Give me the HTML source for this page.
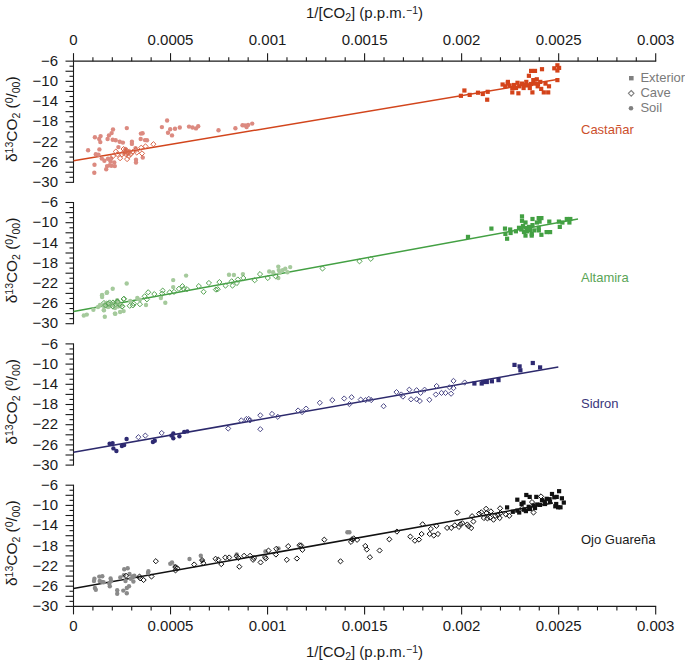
<!DOCTYPE html>
<html><head><meta charset="utf-8"><style>
html,body{margin:0;padding:0;background:#fff;}
svg{display:block;}
text{font-family:"Liberation Sans",sans-serif;font-size:15px;fill:#1a1a1a;}
</style></head><body>
<svg width="685" height="664" viewBox="0 0 685 664">
<rect width="685" height="664" fill="#fff"/>
<text x="364.5" y="17.5" text-anchor="middle">1/[CO<tspan baseline-shift="-25%" font-size="10.5">2</tspan>] (p.p.m.<tspan baseline-shift="35%" font-size="10.5">−1</tspan>)</text>
<text x="364.5" y="656.8" text-anchor="middle">1/[CO<tspan baseline-shift="-25%" font-size="10.5">2</tspan>] (p.p.m.<tspan baseline-shift="35%" font-size="10.5">−1</tspan>)</text>
<g stroke="#1a1a1a" stroke-width="1.1" fill="none">
<line x1="73.5" y1="61.15" x2="73.5" y2="182.85" />
<line x1="65.5" y1="61.15" x2="73.5" y2="61.15" />
<line x1="69.5" y1="66.20" x2="73.5" y2="66.20" />
<line x1="65.5" y1="71.25" x2="73.5" y2="71.25" />
<line x1="69.5" y1="76.30" x2="73.5" y2="76.30" />
<line x1="65.5" y1="81.35" x2="73.5" y2="81.35" />
<line x1="69.5" y1="86.40" x2="73.5" y2="86.40" />
<line x1="65.5" y1="91.45" x2="73.5" y2="91.45" />
<line x1="69.5" y1="96.50" x2="73.5" y2="96.50" />
<line x1="65.5" y1="101.55" x2="73.5" y2="101.55" />
<line x1="69.5" y1="106.60" x2="73.5" y2="106.60" />
<line x1="65.5" y1="111.65" x2="73.5" y2="111.65" />
<line x1="69.5" y1="116.70" x2="73.5" y2="116.70" />
<line x1="65.5" y1="121.75" x2="73.5" y2="121.75" />
<line x1="69.5" y1="126.80" x2="73.5" y2="126.80" />
<line x1="65.5" y1="131.85" x2="73.5" y2="131.85" />
<line x1="69.5" y1="136.90" x2="73.5" y2="136.90" />
<line x1="65.5" y1="141.95" x2="73.5" y2="141.95" />
<line x1="69.5" y1="147.00" x2="73.5" y2="147.00" />
<line x1="65.5" y1="152.05" x2="73.5" y2="152.05" />
<line x1="69.5" y1="157.10" x2="73.5" y2="157.10" />
<line x1="65.5" y1="162.15" x2="73.5" y2="162.15" />
<line x1="69.5" y1="167.20" x2="73.5" y2="167.20" />
<line x1="65.5" y1="172.25" x2="73.5" y2="172.25" />
<line x1="69.5" y1="177.30" x2="73.5" y2="177.30" />
<line x1="65.5" y1="182.35" x2="73.5" y2="182.35" />
<line x1="73.5" y1="202.0" x2="73.5" y2="324.2" />
<line x1="65.5" y1="202.50" x2="73.5" y2="202.50" />
<line x1="69.5" y1="207.55" x2="73.5" y2="207.55" />
<line x1="65.5" y1="212.60" x2="73.5" y2="212.60" />
<line x1="69.5" y1="217.65" x2="73.5" y2="217.65" />
<line x1="65.5" y1="222.70" x2="73.5" y2="222.70" />
<line x1="69.5" y1="227.75" x2="73.5" y2="227.75" />
<line x1="65.5" y1="232.80" x2="73.5" y2="232.80" />
<line x1="69.5" y1="237.85" x2="73.5" y2="237.85" />
<line x1="65.5" y1="242.90" x2="73.5" y2="242.90" />
<line x1="69.5" y1="247.95" x2="73.5" y2="247.95" />
<line x1="65.5" y1="253.00" x2="73.5" y2="253.00" />
<line x1="69.5" y1="258.05" x2="73.5" y2="258.05" />
<line x1="65.5" y1="263.10" x2="73.5" y2="263.10" />
<line x1="69.5" y1="268.15" x2="73.5" y2="268.15" />
<line x1="65.5" y1="273.20" x2="73.5" y2="273.20" />
<line x1="69.5" y1="278.25" x2="73.5" y2="278.25" />
<line x1="65.5" y1="283.30" x2="73.5" y2="283.30" />
<line x1="69.5" y1="288.35" x2="73.5" y2="288.35" />
<line x1="65.5" y1="293.40" x2="73.5" y2="293.40" />
<line x1="69.5" y1="298.45" x2="73.5" y2="298.45" />
<line x1="65.5" y1="303.50" x2="73.5" y2="303.50" />
<line x1="69.5" y1="308.55" x2="73.5" y2="308.55" />
<line x1="65.5" y1="313.60" x2="73.5" y2="313.60" />
<line x1="69.5" y1="318.65" x2="73.5" y2="318.65" />
<line x1="65.5" y1="323.70" x2="73.5" y2="323.70" />
<line x1="73.5" y1="343.4" x2="73.5" y2="465.59999999999997" />
<line x1="65.5" y1="343.90" x2="73.5" y2="343.90" />
<line x1="69.5" y1="348.95" x2="73.5" y2="348.95" />
<line x1="65.5" y1="354.00" x2="73.5" y2="354.00" />
<line x1="69.5" y1="359.05" x2="73.5" y2="359.05" />
<line x1="65.5" y1="364.10" x2="73.5" y2="364.10" />
<line x1="69.5" y1="369.15" x2="73.5" y2="369.15" />
<line x1="65.5" y1="374.20" x2="73.5" y2="374.20" />
<line x1="69.5" y1="379.25" x2="73.5" y2="379.25" />
<line x1="65.5" y1="384.30" x2="73.5" y2="384.30" />
<line x1="69.5" y1="389.35" x2="73.5" y2="389.35" />
<line x1="65.5" y1="394.40" x2="73.5" y2="394.40" />
<line x1="69.5" y1="399.45" x2="73.5" y2="399.45" />
<line x1="65.5" y1="404.50" x2="73.5" y2="404.50" />
<line x1="69.5" y1="409.55" x2="73.5" y2="409.55" />
<line x1="65.5" y1="414.60" x2="73.5" y2="414.60" />
<line x1="69.5" y1="419.65" x2="73.5" y2="419.65" />
<line x1="65.5" y1="424.70" x2="73.5" y2="424.70" />
<line x1="69.5" y1="429.75" x2="73.5" y2="429.75" />
<line x1="65.5" y1="434.80" x2="73.5" y2="434.80" />
<line x1="69.5" y1="439.85" x2="73.5" y2="439.85" />
<line x1="65.5" y1="444.90" x2="73.5" y2="444.90" />
<line x1="69.5" y1="449.95" x2="73.5" y2="449.95" />
<line x1="65.5" y1="455.00" x2="73.5" y2="455.00" />
<line x1="69.5" y1="460.05" x2="73.5" y2="460.05" />
<line x1="65.5" y1="465.10" x2="73.5" y2="465.10" />
<line x1="73.5" y1="484.7" x2="73.5" y2="606.9" />
<line x1="65.5" y1="485.20" x2="73.5" y2="485.20" />
<line x1="69.5" y1="490.25" x2="73.5" y2="490.25" />
<line x1="65.5" y1="495.30" x2="73.5" y2="495.30" />
<line x1="69.5" y1="500.35" x2="73.5" y2="500.35" />
<line x1="65.5" y1="505.40" x2="73.5" y2="505.40" />
<line x1="69.5" y1="510.45" x2="73.5" y2="510.45" />
<line x1="65.5" y1="515.50" x2="73.5" y2="515.50" />
<line x1="69.5" y1="520.55" x2="73.5" y2="520.55" />
<line x1="65.5" y1="525.60" x2="73.5" y2="525.60" />
<line x1="69.5" y1="530.65" x2="73.5" y2="530.65" />
<line x1="65.5" y1="535.70" x2="73.5" y2="535.70" />
<line x1="69.5" y1="540.75" x2="73.5" y2="540.75" />
<line x1="65.5" y1="545.80" x2="73.5" y2="545.80" />
<line x1="69.5" y1="550.85" x2="73.5" y2="550.85" />
<line x1="65.5" y1="555.90" x2="73.5" y2="555.90" />
<line x1="69.5" y1="560.95" x2="73.5" y2="560.95" />
<line x1="65.5" y1="566.00" x2="73.5" y2="566.00" />
<line x1="69.5" y1="571.05" x2="73.5" y2="571.05" />
<line x1="65.5" y1="576.10" x2="73.5" y2="576.10" />
<line x1="69.5" y1="581.15" x2="73.5" y2="581.15" />
<line x1="65.5" y1="586.20" x2="73.5" y2="586.20" />
<line x1="69.5" y1="591.25" x2="73.5" y2="591.25" />
<line x1="65.5" y1="596.30" x2="73.5" y2="596.30" />
<line x1="69.5" y1="601.35" x2="73.5" y2="601.35" />
<line x1="65.5" y1="606.40" x2="73.5" y2="606.40" />
<line x1="73.5" y1="61.15" x2="656.201" y2="61.15" />
<line x1="73.50" y1="53.15" x2="73.50" y2="61.15" />
<line x1="92.91" y1="57.15" x2="92.91" y2="61.15" />
<line x1="112.31" y1="57.15" x2="112.31" y2="61.15" />
<line x1="131.72" y1="57.15" x2="131.72" y2="61.15" />
<line x1="151.13" y1="57.15" x2="151.13" y2="61.15" />
<line x1="170.53" y1="53.15" x2="170.53" y2="61.15" />
<line x1="189.94" y1="57.15" x2="189.94" y2="61.15" />
<line x1="209.35" y1="57.15" x2="209.35" y2="61.15" />
<line x1="228.75" y1="57.15" x2="228.75" y2="61.15" />
<line x1="248.16" y1="57.15" x2="248.16" y2="61.15" />
<line x1="267.57" y1="53.15" x2="267.57" y2="61.15" />
<line x1="286.97" y1="57.15" x2="286.97" y2="61.15" />
<line x1="306.38" y1="57.15" x2="306.38" y2="61.15" />
<line x1="325.79" y1="57.15" x2="325.79" y2="61.15" />
<line x1="345.19" y1="57.15" x2="345.19" y2="61.15" />
<line x1="364.60" y1="53.15" x2="364.60" y2="61.15" />
<line x1="384.01" y1="57.15" x2="384.01" y2="61.15" />
<line x1="403.41" y1="57.15" x2="403.41" y2="61.15" />
<line x1="422.82" y1="57.15" x2="422.82" y2="61.15" />
<line x1="442.23" y1="57.15" x2="442.23" y2="61.15" />
<line x1="461.63" y1="53.15" x2="461.63" y2="61.15" />
<line x1="481.04" y1="57.15" x2="481.04" y2="61.15" />
<line x1="500.45" y1="57.15" x2="500.45" y2="61.15" />
<line x1="519.85" y1="57.15" x2="519.85" y2="61.15" />
<line x1="539.26" y1="57.15" x2="539.26" y2="61.15" />
<line x1="558.67" y1="53.15" x2="558.67" y2="61.15" />
<line x1="578.07" y1="57.15" x2="578.07" y2="61.15" />
<line x1="597.48" y1="57.15" x2="597.48" y2="61.15" />
<line x1="616.89" y1="57.15" x2="616.89" y2="61.15" />
<line x1="636.29" y1="57.15" x2="636.29" y2="61.15" />
<line x1="655.70" y1="53.15" x2="655.70" y2="61.15" />
<line x1="73.5" y1="606.4" x2="656.201" y2="606.4" />
<line x1="73.50" y1="606.4" x2="73.50" y2="614.4" />
<line x1="92.91" y1="606.4" x2="92.91" y2="610.4" />
<line x1="112.31" y1="606.4" x2="112.31" y2="610.4" />
<line x1="131.72" y1="606.4" x2="131.72" y2="610.4" />
<line x1="151.13" y1="606.4" x2="151.13" y2="610.4" />
<line x1="170.53" y1="606.4" x2="170.53" y2="614.4" />
<line x1="189.94" y1="606.4" x2="189.94" y2="610.4" />
<line x1="209.35" y1="606.4" x2="209.35" y2="610.4" />
<line x1="228.75" y1="606.4" x2="228.75" y2="610.4" />
<line x1="248.16" y1="606.4" x2="248.16" y2="610.4" />
<line x1="267.57" y1="606.4" x2="267.57" y2="614.4" />
<line x1="286.97" y1="606.4" x2="286.97" y2="610.4" />
<line x1="306.38" y1="606.4" x2="306.38" y2="610.4" />
<line x1="325.79" y1="606.4" x2="325.79" y2="610.4" />
<line x1="345.19" y1="606.4" x2="345.19" y2="610.4" />
<line x1="364.60" y1="606.4" x2="364.60" y2="614.4" />
<line x1="384.01" y1="606.4" x2="384.01" y2="610.4" />
<line x1="403.41" y1="606.4" x2="403.41" y2="610.4" />
<line x1="422.82" y1="606.4" x2="422.82" y2="610.4" />
<line x1="442.23" y1="606.4" x2="442.23" y2="610.4" />
<line x1="461.63" y1="606.4" x2="461.63" y2="614.4" />
<line x1="481.04" y1="606.4" x2="481.04" y2="610.4" />
<line x1="500.45" y1="606.4" x2="500.45" y2="610.4" />
<line x1="519.85" y1="606.4" x2="519.85" y2="610.4" />
<line x1="539.26" y1="606.4" x2="539.26" y2="610.4" />
<line x1="558.67" y1="606.4" x2="558.67" y2="614.4" />
<line x1="578.07" y1="606.4" x2="578.07" y2="610.4" />
<line x1="597.48" y1="606.4" x2="597.48" y2="610.4" />
<line x1="616.89" y1="606.4" x2="616.89" y2="610.4" />
<line x1="636.29" y1="606.4" x2="636.29" y2="610.4" />
<line x1="655.70" y1="606.4" x2="655.70" y2="614.4" />
</g>
<g>
<text x="73.50" y="45.3" text-anchor="middle">0</text>
<text x="73.50" y="631.3" text-anchor="middle">0</text>
<text x="170.53" y="45.3" text-anchor="middle">0.0005</text>
<text x="170.53" y="631.3" text-anchor="middle">0.0005</text>
<text x="267.57" y="45.3" text-anchor="middle">0.001</text>
<text x="267.57" y="631.3" text-anchor="middle">0.001</text>
<text x="364.60" y="45.3" text-anchor="middle">0.0015</text>
<text x="364.60" y="631.3" text-anchor="middle">0.0015</text>
<text x="461.63" y="45.3" text-anchor="middle">0.002</text>
<text x="461.63" y="631.3" text-anchor="middle">0.002</text>
<text x="558.67" y="45.3" text-anchor="middle">0.0025</text>
<text x="558.67" y="631.3" text-anchor="middle">0.0025</text>
<text x="655.70" y="45.3" text-anchor="middle">0.003</text>
<text x="655.70" y="631.3" text-anchor="middle">0.003</text>
<text x="58" y="65.85" text-anchor="end">−6</text>
<text x="58" y="86.05" text-anchor="end">−10</text>
<text x="58" y="106.25" text-anchor="end">−14</text>
<text x="58" y="126.45" text-anchor="end">−18</text>
<text x="58" y="146.65" text-anchor="end">−22</text>
<text x="58" y="166.85" text-anchor="end">−26</text>
<text x="58" y="187.05" text-anchor="end">−30</text>
<text x="58" y="207.20" text-anchor="end">−6</text>
<text x="58" y="227.40" text-anchor="end">−10</text>
<text x="58" y="247.60" text-anchor="end">−14</text>
<text x="58" y="267.80" text-anchor="end">−18</text>
<text x="58" y="288.00" text-anchor="end">−22</text>
<text x="58" y="308.20" text-anchor="end">−26</text>
<text x="58" y="328.40" text-anchor="end">−30</text>
<text x="58" y="348.60" text-anchor="end">−6</text>
<text x="58" y="368.80" text-anchor="end">−10</text>
<text x="58" y="389.00" text-anchor="end">−14</text>
<text x="58" y="409.20" text-anchor="end">−18</text>
<text x="58" y="429.40" text-anchor="end">−22</text>
<text x="58" y="449.60" text-anchor="end">−26</text>
<text x="58" y="469.80" text-anchor="end">−30</text>
<text x="58" y="489.90" text-anchor="end">−6</text>
<text x="58" y="510.10" text-anchor="end">−10</text>
<text x="58" y="530.30" text-anchor="end">−14</text>
<text x="58" y="550.50" text-anchor="end">−18</text>
<text x="58" y="570.70" text-anchor="end">−22</text>
<text x="58" y="590.90" text-anchor="end">−26</text>
<text x="58" y="611.10" text-anchor="end">−30</text>
</g>
<text transform="translate(17.3 119.2) rotate(-90)" text-anchor="middle" style="font-size:15.4px">δ<tspan baseline-shift="35%" font-size="10.5">13</tspan>CO<tspan baseline-shift="-25%" font-size="10.5">2</tspan> (<tspan baseline-shift="35%" font-size="10.5">0</tspan>/<tspan baseline-shift="-25%" font-size="10.5">00</tspan>)</text>
<text transform="translate(17.3 260.5) rotate(-90)" text-anchor="middle" style="font-size:15.4px">δ<tspan baseline-shift="35%" font-size="10.5">13</tspan>CO<tspan baseline-shift="-25%" font-size="10.5">2</tspan> (<tspan baseline-shift="35%" font-size="10.5">0</tspan>/<tspan baseline-shift="-25%" font-size="10.5">00</tspan>)</text>
<text transform="translate(17.3 401.9) rotate(-90)" text-anchor="middle" style="font-size:15.4px">δ<tspan baseline-shift="35%" font-size="10.5">13</tspan>CO<tspan baseline-shift="-25%" font-size="10.5">2</tspan> (<tspan baseline-shift="35%" font-size="10.5">0</tspan>/<tspan baseline-shift="-25%" font-size="10.5">00</tspan>)</text>
<text transform="translate(17.3 543.2) rotate(-90)" text-anchor="middle" style="font-size:15.4px">δ<tspan baseline-shift="35%" font-size="10.5">13</tspan>CO<tspan baseline-shift="-25%" font-size="10.5">2</tspan> (<tspan baseline-shift="35%" font-size="10.5">0</tspan>/<tspan baseline-shift="-25%" font-size="10.5">00</tspan>)</text>
<line x1="73.5" y1="160.7" x2="557" y2="79.5" stroke="#d2451c" stroke-width="1.5"/>
<line x1="73.5" y1="311.5" x2="578" y2="219" stroke="#43a043" stroke-width="1.5"/>
<line x1="73.5" y1="452.2" x2="558.3" y2="367" stroke="#2c296c" stroke-width="1.5"/>
<line x1="73.5" y1="588.6" x2="553" y2="503" stroke="#111111" stroke-width="1.5"/>
<circle cx="88.1" cy="150.3" r="2.2" fill="#dc8a80"/>
<circle cx="94.9" cy="137.2" r="2.2" fill="#dc8a80"/>
<circle cx="100.6" cy="136.1" r="2.2" fill="#dc8a80"/>
<circle cx="99.2" cy="139" r="2.2" fill="#dc8a80"/>
<circle cx="100.3" cy="142.1" r="2.2" fill="#dc8a80"/>
<circle cx="99.4" cy="149.4" r="2.2" fill="#dc8a80"/>
<circle cx="95.8" cy="154.3" r="2.2" fill="#dc8a80"/>
<circle cx="98.5" cy="154.8" r="2.2" fill="#dc8a80"/>
<circle cx="94.5" cy="164.7" r="2.2" fill="#dc8a80"/>
<circle cx="94.3" cy="172.8" r="2.2" fill="#dc8a80"/>
<circle cx="113" cy="129.5" r="2.2" fill="#dc8a80"/>
<circle cx="111.6" cy="133.1" r="2.2" fill="#dc8a80"/>
<circle cx="108.9" cy="135.4" r="2.2" fill="#dc8a80"/>
<circle cx="107.6" cy="139" r="2.2" fill="#dc8a80"/>
<circle cx="112.7" cy="139.7" r="2.2" fill="#dc8a80"/>
<circle cx="115.7" cy="140.3" r="2.2" fill="#dc8a80"/>
<circle cx="119.7" cy="141.7" r="2.2" fill="#dc8a80"/>
<circle cx="122.9" cy="142.6" r="2.2" fill="#dc8a80"/>
<circle cx="126.8" cy="128.1" r="2.2" fill="#dc8a80"/>
<circle cx="131.9" cy="141.7" r="2.2" fill="#dc8a80"/>
<circle cx="131.9" cy="143.9" r="2.2" fill="#dc8a80"/>
<circle cx="118.4" cy="147.1" r="2.2" fill="#dc8a80"/>
<circle cx="104.4" cy="160.7" r="2.2" fill="#dc8a80"/>
<circle cx="108" cy="158.8" r="2.2" fill="#dc8a80"/>
<circle cx="111.2" cy="158.4" r="2.2" fill="#dc8a80"/>
<circle cx="107.1" cy="166.1" r="2.2" fill="#dc8a80"/>
<circle cx="106.2" cy="169.2" r="2.2" fill="#dc8a80"/>
<circle cx="109.8" cy="165.2" r="2.2" fill="#dc8a80"/>
<circle cx="114.8" cy="166.1" r="2.2" fill="#dc8a80"/>
<circle cx="114.3" cy="162.5" r="2.2" fill="#dc8a80"/>
<circle cx="136" cy="159.7" r="2.2" fill="#dc8a80"/>
<circle cx="136" cy="162.5" r="2.2" fill="#dc8a80"/>
<circle cx="140.7" cy="139" r="2.2" fill="#dc8a80"/>
<circle cx="145" cy="140.1" r="2.2" fill="#dc8a80"/>
<circle cx="135.5" cy="148.1" r="2.2" fill="#dc8a80"/>
<circle cx="142.8" cy="157.6" r="2.2" fill="#dc8a80"/>
<circle cx="111.5" cy="165.7" r="2.2" fill="#dc8a80"/>
<circle cx="167.1" cy="120.5" r="2.2" fill="#dc8a80"/>
<circle cx="161.9" cy="127.1" r="2.2" fill="#dc8a80"/>
<circle cx="170.2" cy="129.3" r="2.2" fill="#dc8a80"/>
<circle cx="168" cy="132.8" r="2.2" fill="#dc8a80"/>
<circle cx="172" cy="135.4" r="2.2" fill="#dc8a80"/>
<circle cx="175" cy="128.8" r="2.2" fill="#dc8a80"/>
<circle cx="179.8" cy="127.5" r="2.2" fill="#dc8a80"/>
<circle cx="189" cy="126.6" r="2.2" fill="#dc8a80"/>
<circle cx="192.5" cy="127.5" r="2.2" fill="#dc8a80"/>
<circle cx="196" cy="128.4" r="2.2" fill="#dc8a80"/>
<circle cx="198.2" cy="126.2" r="2.2" fill="#dc8a80"/>
<circle cx="142.6" cy="133.2" r="2.2" fill="#dc8a80"/>
<circle cx="140.9" cy="133.6" r="2.2" fill="#dc8a80"/>
<circle cx="147" cy="140.2" r="2.2" fill="#dc8a80"/>
<circle cx="218.5" cy="130.3" r="2.2" fill="#dc8a80"/>
<circle cx="235.4" cy="128.3" r="2.2" fill="#dc8a80"/>
<circle cx="242.5" cy="125.2" r="2.2" fill="#dc8a80"/>
<circle cx="245" cy="125.4" r="2.2" fill="#dc8a80"/>
<circle cx="246.6" cy="127" r="2.2" fill="#dc8a80"/>
<circle cx="248.1" cy="124.9" r="2.2" fill="#dc8a80"/>
<circle cx="252.2" cy="123.6" r="2.2" fill="#dc8a80"/>
<circle cx="125.4" cy="149" r="2.2" fill="#dc8a80"/>
<circle cx="101.8" cy="158.6" r="2.2" fill="#dc8a80"/>
<circle cx="110.5" cy="161.3" r="2.2" fill="#dc8a80"/>
<path d="M153.4 141.60l2.6 2.6l-2.6 2.6l-2.6 -2.6z" fill="none" stroke="#d8654a" stroke-width="1.0"/>
<path d="M145.5 143.80l2.6 2.6l-2.6 2.6l-2.6 -2.6z" fill="none" stroke="#d8654a" stroke-width="1.0"/>
<path d="M141.2 145.10l2.6 2.6l-2.6 2.6l-2.6 -2.6z" fill="none" stroke="#d8654a" stroke-width="1.0"/>
<path d="M142 150.80l2.6 2.6l-2.6 2.6l-2.6 -2.6z" fill="none" stroke="#d8654a" stroke-width="1.0"/>
<path d="M136.8 149.90l2.6 2.6l-2.6 2.6l-2.6 -2.6z" fill="none" stroke="#d8654a" stroke-width="1.0"/>
<path d="M132.4 149.50l2.6 2.6l-2.6 2.6l-2.6 -2.6z" fill="none" stroke="#d8654a" stroke-width="1.0"/>
<path d="M127.1 156.50l2.6 2.6l-2.6 2.6l-2.6 -2.6z" fill="none" stroke="#d8654a" stroke-width="1.0"/>
<path d="M120.1 155.60l2.6 2.6l-2.6 2.6l-2.6 -2.6z" fill="none" stroke="#d8654a" stroke-width="1.0"/>
<path d="M117.5 151.70l2.6 2.6l-2.6 2.6l-2.6 -2.6z" fill="none" stroke="#d8654a" stroke-width="1.0"/>
<path d="M121.9 151.70l2.6 2.6l-2.6 2.6l-2.6 -2.6z" fill="none" stroke="#d8654a" stroke-width="1.0"/>
<path d="M128.9 153.40l2.6 2.6l-2.6 2.6l-2.6 -2.6z" fill="none" stroke="#d8654a" stroke-width="1.0"/>
<path d="M124.5 149.00l2.6 2.6l-2.6 2.6l-2.6 -2.6z" fill="none" stroke="#d8654a" stroke-width="1.0"/>
<path d="M126.3 151.70l2.6 2.6l-2.6 2.6l-2.6 -2.6z" fill="none" stroke="#d8654a" stroke-width="1.0"/>
<path d="M130.6 151.70l2.6 2.6l-2.6 2.6l-2.6 -2.6z" fill="none" stroke="#d8654a" stroke-width="1.0"/>
<path d="M135.9 147.30l2.6 2.6l-2.6 2.6l-2.6 -2.6z" fill="none" stroke="#d8654a" stroke-width="1.0"/>
<path d="M123.6 146.40l2.6 2.6l-2.6 2.6l-2.6 -2.6z" fill="none" stroke="#d8654a" stroke-width="1.0"/>
<path d="M115.8 149.00l2.6 2.6l-2.6 2.6l-2.6 -2.6z" fill="none" stroke="#d8654a" stroke-width="1.0"/>
<path d="M113.1 153.40l2.6 2.6l-2.6 2.6l-2.6 -2.6z" fill="none" stroke="#d8654a" stroke-width="1.0"/>
<path d="M127 148.40l2.6 2.6l-2.6 2.6l-2.6 -2.6z" fill="none" stroke="#d8654a" stroke-width="1.0"/>
<path d="M128 150.40l2.6 2.6l-2.6 2.6l-2.6 -2.6z" fill="none" stroke="#d8654a" stroke-width="1.0"/>
<path d="M125.5 148.90l2.6 2.6l-2.6 2.6l-2.6 -2.6z" fill="#d8654a" fill-opacity="0.6"/>
<path d="M128 150.90l2.6 2.6l-2.6 2.6l-2.6 -2.6z" fill="#d8654a" fill-opacity="0.6"/>
<path d="M124 151.40l2.6 2.6l-2.6 2.6l-2.6 -2.6z" fill="#d8654a" fill-opacity="0.6"/>
<path d="M127 147.90l2.6 2.6l-2.6 2.6l-2.6 -2.6z" fill="#d8654a" fill-opacity="0.6"/>
<path d="M129.5 148.40l2.6 2.6l-2.6 2.6l-2.6 -2.6z" fill="#d8654a" fill-opacity="0.6"/>
<rect x="458.80" y="93.70" width="4.2" height="4.2" fill="#d4431a"/>
<rect x="462.30" y="88.40" width="4.2" height="4.2" fill="#d4431a"/>
<rect x="467.60" y="92.80" width="4.2" height="4.2" fill="#d4431a"/>
<rect x="475.90" y="90.60" width="4.2" height="4.2" fill="#d4431a"/>
<rect x="480.70" y="91.90" width="4.2" height="4.2" fill="#d4431a"/>
<rect x="485.60" y="89.70" width="4.2" height="4.2" fill="#d4431a"/>
<rect x="485.10" y="97.60" width="4.2" height="4.2" fill="#d4431a"/>
<rect x="555.30" y="63.20" width="4.2" height="4.2" fill="#d4431a"/>
<rect x="552.20" y="66.20" width="4.2" height="4.2" fill="#d4431a"/>
<rect x="555.30" y="68.40" width="4.2" height="4.2" fill="#d4431a"/>
<rect x="557.00" y="65.80" width="4.2" height="4.2" fill="#d4431a"/>
<rect x="539.90" y="67.10" width="4.2" height="4.2" fill="#d4431a"/>
<rect x="529.00" y="68.80" width="4.2" height="4.2" fill="#d4431a"/>
<rect x="532.90" y="68.80" width="4.2" height="4.2" fill="#d4431a"/>
<rect x="526.80" y="73.70" width="4.2" height="4.2" fill="#d4431a"/>
<rect x="555.30" y="78.00" width="4.2" height="4.2" fill="#d4431a"/>
<rect x="500.50" y="82.40" width="4.2" height="4.2" fill="#d4431a"/>
<rect x="503.20" y="84.20" width="4.2" height="4.2" fill="#d4431a"/>
<rect x="505.80" y="79.80" width="4.2" height="4.2" fill="#d4431a"/>
<rect x="507.50" y="83.30" width="4.2" height="4.2" fill="#d4431a"/>
<rect x="510.20" y="85.90" width="4.2" height="4.2" fill="#d4431a"/>
<rect x="510.20" y="90.30" width="4.2" height="4.2" fill="#d4431a"/>
<rect x="515.40" y="80.70" width="4.2" height="4.2" fill="#d4431a"/>
<rect x="517.20" y="84.20" width="4.2" height="4.2" fill="#d4431a"/>
<rect x="516.30" y="91.20" width="4.2" height="4.2" fill="#d4431a"/>
<rect x="519.80" y="81.50" width="4.2" height="4.2" fill="#d4431a"/>
<rect x="521.50" y="85.90" width="4.2" height="4.2" fill="#d4431a"/>
<rect x="524.20" y="79.80" width="4.2" height="4.2" fill="#d4431a"/>
<rect x="525.00" y="83.30" width="4.2" height="4.2" fill="#d4431a"/>
<rect x="527.70" y="85.90" width="4.2" height="4.2" fill="#d4431a"/>
<rect x="530.30" y="90.30" width="4.2" height="4.2" fill="#d4431a"/>
<rect x="531.20" y="78.00" width="4.2" height="4.2" fill="#d4431a"/>
<rect x="532.90" y="81.50" width="4.2" height="4.2" fill="#d4431a"/>
<rect x="534.70" y="77.20" width="4.2" height="4.2" fill="#d4431a"/>
<rect x="535.60" y="84.20" width="4.2" height="4.2" fill="#d4431a"/>
<rect x="538.20" y="79.80" width="4.2" height="4.2" fill="#d4431a"/>
<rect x="539.10" y="86.80" width="4.2" height="4.2" fill="#d4431a"/>
<rect x="541.70" y="90.30" width="4.2" height="4.2" fill="#d4431a"/>
<rect x="543.40" y="81.50" width="4.2" height="4.2" fill="#d4431a"/>
<rect x="546.10" y="90.30" width="4.2" height="4.2" fill="#d4431a"/>
<rect x="546.90" y="84.20" width="4.2" height="4.2" fill="#d4431a"/>
<rect x="505.70" y="81.40" width="4.2" height="4.2" fill="#d4431a"/>
<rect x="511.90" y="82.90" width="4.2" height="4.2" fill="#d4431a"/>
<rect x="513.90" y="85.90" width="4.2" height="4.2" fill="#d4431a"/>
<rect x="522.90" y="82.90" width="4.2" height="4.2" fill="#d4431a"/>
<rect x="528.90" y="81.90" width="4.2" height="4.2" fill="#d4431a"/>
<rect x="535.90" y="81.90" width="4.2" height="4.2" fill="#d4431a"/>
<circle cx="102" cy="295.5" r="2.2" fill="#a5ca9c"/>
<circle cx="106.7" cy="292.9" r="2.2" fill="#a5ca9c"/>
<circle cx="103.8" cy="310.1" r="2.2" fill="#a5ca9c"/>
<circle cx="114.9" cy="313.6" r="2.2" fill="#a5ca9c"/>
<circle cx="105.5" cy="303.7" r="2.2" fill="#a5ca9c"/>
<circle cx="117.2" cy="300.2" r="2.2" fill="#a5ca9c"/>
<circle cx="104" cy="305.5" r="2.2" fill="#a5ca9c"/>
<circle cx="109" cy="306.5" r="2.2" fill="#a5ca9c"/>
<circle cx="114" cy="303.5" r="2.2" fill="#a5ca9c"/>
<circle cx="118" cy="306.5" r="2.2" fill="#a5ca9c"/>
<circle cx="111" cy="304" r="2.2" fill="#a5ca9c"/>
<path d="M112.5 303.40l2.6 2.6l-2.6 2.6l-2.6 -2.6z" fill="none" stroke="#55a352" stroke-width="1.0"/>
<path d="M123.6 296.40l2.6 2.6l-2.6 2.6l-2.6 -2.6z" fill="none" stroke="#55a352" stroke-width="1.0"/>
<path d="M121.9 304.00l2.6 2.6l-2.6 2.6l-2.6 -2.6z" fill="none" stroke="#55a352" stroke-width="1.0"/>
<path d="M106.7 301.10l2.6 2.6l-2.6 2.6l-2.6 -2.6z" fill="none" stroke="#55a352" stroke-width="1.0"/>
<path d="M118.4 300.50l2.6 2.6l-2.6 2.6l-2.6 -2.6z" fill="none" stroke="#55a352" stroke-width="1.0"/>
<path d="M109.6 299.90l2.6 2.6l-2.6 2.6l-2.6 -2.6z" fill="none" stroke="#55a352" stroke-width="1.0"/>
<path d="M104 300.40l2.6 2.6l-2.6 2.6l-2.6 -2.6z" fill="none" stroke="#55a352" stroke-width="1.0"/>
<path d="M110 301.90l2.6 2.6l-2.6 2.6l-2.6 -2.6z" fill="none" stroke="#55a352" stroke-width="1.0"/>
<path d="M113 299.90l2.6 2.6l-2.6 2.6l-2.6 -2.6z" fill="none" stroke="#55a352" stroke-width="1.0"/>
<path d="M115 302.40l2.6 2.6l-2.6 2.6l-2.6 -2.6z" fill="none" stroke="#55a352" stroke-width="1.0"/>
<path d="M117 298.90l2.6 2.6l-2.6 2.6l-2.6 -2.6z" fill="none" stroke="#55a352" stroke-width="1.0"/>
<path d="M119.5 301.90l2.6 2.6l-2.6 2.6l-2.6 -2.6z" fill="none" stroke="#55a352" stroke-width="1.0"/>
<path d="M108 302.90l2.6 2.6l-2.6 2.6l-2.6 -2.6z" fill="none" stroke="#55a352" stroke-width="1.0"/>
<circle cx="126.7" cy="283.5" r="2.2" fill="#a5ca9c"/>
<circle cx="112.7" cy="288.8" r="2.2" fill="#a5ca9c"/>
<circle cx="107" cy="292.3" r="2.2" fill="#a5ca9c"/>
<circle cx="102.1" cy="294.9" r="2.2" fill="#a5ca9c"/>
<circle cx="102.1" cy="297.1" r="2.2" fill="#a5ca9c"/>
<circle cx="93.4" cy="309.8" r="2.2" fill="#a5ca9c"/>
<circle cx="83.8" cy="315.5" r="2.2" fill="#a5ca9c"/>
<circle cx="86.8" cy="314.6" r="2.2" fill="#a5ca9c"/>
<circle cx="104.8" cy="316.8" r="2.2" fill="#a5ca9c"/>
<circle cx="103.9" cy="310.2" r="2.2" fill="#a5ca9c"/>
<circle cx="115.3" cy="313.7" r="2.2" fill="#a5ca9c"/>
<circle cx="120.1" cy="312" r="2.2" fill="#a5ca9c"/>
<circle cx="123.6" cy="311.1" r="2.2" fill="#a5ca9c"/>
<circle cx="130.2" cy="301" r="2.2" fill="#a5ca9c"/>
<circle cx="173.2" cy="280.1" r="2.2" fill="#a5ca9c"/>
<circle cx="173.2" cy="287.1" r="2.2" fill="#a5ca9c"/>
<circle cx="160.9" cy="298" r="2.2" fill="#a5ca9c"/>
<circle cx="165.3" cy="302.8" r="2.2" fill="#a5ca9c"/>
<circle cx="146" cy="305" r="2.2" fill="#a5ca9c"/>
<circle cx="137.3" cy="298" r="2.2" fill="#a5ca9c"/>
<circle cx="139.9" cy="299.8" r="2.2" fill="#a5ca9c"/>
<circle cx="186.1" cy="275.6" r="2.2" fill="#a5ca9c"/>
<circle cx="229" cy="274.7" r="2.2" fill="#a5ca9c"/>
<circle cx="233.9" cy="275" r="2.2" fill="#a5ca9c"/>
<circle cx="242.9" cy="274.1" r="2.2" fill="#a5ca9c"/>
<circle cx="269.2" cy="271.5" r="2.2" fill="#a5ca9c"/>
<circle cx="273.1" cy="272.3" r="2.2" fill="#a5ca9c"/>
<circle cx="278.3" cy="266.6" r="2.2" fill="#a5ca9c"/>
<circle cx="278.8" cy="270.1" r="2.2" fill="#a5ca9c"/>
<circle cx="279.7" cy="272.8" r="2.2" fill="#a5ca9c"/>
<circle cx="282.7" cy="270.1" r="2.2" fill="#a5ca9c"/>
<circle cx="285.3" cy="268.8" r="2.2" fill="#a5ca9c"/>
<circle cx="290.2" cy="267.1" r="2.2" fill="#a5ca9c"/>
<circle cx="287.5" cy="272.3" r="2.2" fill="#a5ca9c"/>
<circle cx="278.3" cy="278" r="2.2" fill="#a5ca9c"/>
<circle cx="106" cy="303" r="2.2" fill="#a5ca9c"/>
<circle cx="109" cy="304" r="2.2" fill="#a5ca9c"/>
<circle cx="112" cy="305" r="2.2" fill="#a5ca9c"/>
<circle cx="118" cy="303" r="2.2" fill="#a5ca9c"/>
<circle cx="121" cy="305" r="2.2" fill="#a5ca9c"/>
<circle cx="108" cy="307" r="2.2" fill="#a5ca9c"/>
<circle cx="115" cy="308" r="2.2" fill="#a5ca9c"/>
<circle cx="104" cy="306" r="2.2" fill="#a5ca9c"/>
<circle cx="98" cy="307" r="2.2" fill="#a5ca9c"/>
<circle cx="100" cy="305" r="2.2" fill="#a5ca9c"/>
<path d="M124 296.20l2.6 2.6l-2.6 2.6l-2.6 -2.6z" fill="none" stroke="#55a352" stroke-width="1.0"/>
<path d="M122.3 303.70l2.6 2.6l-2.6 2.6l-2.6 -2.6z" fill="none" stroke="#55a352" stroke-width="1.0"/>
<path d="M129.7 303.20l2.6 2.6l-2.6 2.6l-2.6 -2.6z" fill="none" stroke="#55a352" stroke-width="1.0"/>
<path d="M112.7 303.70l2.6 2.6l-2.6 2.6l-2.6 -2.6z" fill="none" stroke="#55a352" stroke-width="1.0"/>
<path d="M117.9 299.30l2.6 2.6l-2.6 2.6l-2.6 -2.6z" fill="none" stroke="#55a352" stroke-width="1.0"/>
<path d="M108.3 301.00l2.6 2.6l-2.6 2.6l-2.6 -2.6z" fill="none" stroke="#55a352" stroke-width="1.0"/>
<path d="M105.6 302.80l2.6 2.6l-2.6 2.6l-2.6 -2.6z" fill="none" stroke="#55a352" stroke-width="1.0"/>
<path d="M132.8 302.80l2.6 2.6l-2.6 2.6l-2.6 -2.6z" fill="none" stroke="#55a352" stroke-width="1.0"/>
<path d="M133.8 301.10l2.6 2.6l-2.6 2.6l-2.6 -2.6z" fill="none" stroke="#55a352" stroke-width="1.0"/>
<path d="M139.9 301.60l2.6 2.6l-2.6 2.6l-2.6 -2.6z" fill="none" stroke="#55a352" stroke-width="1.0"/>
<path d="M144.7 293.70l2.6 2.6l-2.6 2.6l-2.6 -2.6z" fill="none" stroke="#55a352" stroke-width="1.0"/>
<path d="M148.2 289.70l2.6 2.6l-2.6 2.6l-2.6 -2.6z" fill="none" stroke="#55a352" stroke-width="1.0"/>
<path d="M146.9 296.70l2.6 2.6l-2.6 2.6l-2.6 -2.6z" fill="none" stroke="#55a352" stroke-width="1.0"/>
<path d="M154.3 291.50l2.6 2.6l-2.6 2.6l-2.6 -2.6z" fill="none" stroke="#55a352" stroke-width="1.0"/>
<path d="M162.7 288.00l2.6 2.6l-2.6 2.6l-2.6 -2.6z" fill="none" stroke="#55a352" stroke-width="1.0"/>
<path d="M162.2 291.00l2.6 2.6l-2.6 2.6l-2.6 -2.6z" fill="none" stroke="#55a352" stroke-width="1.0"/>
<path d="M169.7 289.70l2.6 2.6l-2.6 2.6l-2.6 -2.6z" fill="none" stroke="#55a352" stroke-width="1.0"/>
<path d="M174 289.30l2.6 2.6l-2.6 2.6l-2.6 -2.6z" fill="none" stroke="#55a352" stroke-width="1.0"/>
<path d="M178.9 286.20l2.6 2.6l-2.6 2.6l-2.6 -2.6z" fill="none" stroke="#55a352" stroke-width="1.0"/>
<path d="M182.4 283.60l2.6 2.6l-2.6 2.6l-2.6 -2.6z" fill="none" stroke="#55a352" stroke-width="1.0"/>
<path d="M183.7 286.20l2.6 2.6l-2.6 2.6l-2.6 -2.6z" fill="none" stroke="#55a352" stroke-width="1.0"/>
<path d="M187 286.60l2.6 2.6l-2.6 2.6l-2.6 -2.6z" fill="none" stroke="#55a352" stroke-width="1.0"/>
<path d="M198.8 283.50l2.6 2.6l-2.6 2.6l-2.6 -2.6z" fill="none" stroke="#55a352" stroke-width="1.0"/>
<path d="M203.6 289.20l2.6 2.6l-2.6 2.6l-2.6 -2.6z" fill="none" stroke="#55a352" stroke-width="1.0"/>
<path d="M208.9 280.40l2.6 2.6l-2.6 2.6l-2.6 -2.6z" fill="none" stroke="#55a352" stroke-width="1.0"/>
<path d="M215.9 287.00l2.6 2.6l-2.6 2.6l-2.6 -2.6z" fill="none" stroke="#55a352" stroke-width="1.0"/>
<path d="M217.7 286.60l2.6 2.6l-2.6 2.6l-2.6 -2.6z" fill="none" stroke="#55a352" stroke-width="1.0"/>
<path d="M219.4 279.50l2.6 2.6l-2.6 2.6l-2.6 -2.6z" fill="none" stroke="#55a352" stroke-width="1.0"/>
<path d="M225.5 283.00l2.6 2.6l-2.6 2.6l-2.6 -2.6z" fill="none" stroke="#55a352" stroke-width="1.0"/>
<path d="M231.7 278.70l2.6 2.6l-2.6 2.6l-2.6 -2.6z" fill="none" stroke="#55a352" stroke-width="1.0"/>
<path d="M232.5 283.00l2.6 2.6l-2.6 2.6l-2.6 -2.6z" fill="none" stroke="#55a352" stroke-width="1.0"/>
<path d="M236.9 280.40l2.6 2.6l-2.6 2.6l-2.6 -2.6z" fill="none" stroke="#55a352" stroke-width="1.0"/>
<path d="M237.8 276.90l2.6 2.6l-2.6 2.6l-2.6 -2.6z" fill="none" stroke="#55a352" stroke-width="1.0"/>
<path d="M243.3 275.40l2.6 2.6l-2.6 2.6l-2.6 -2.6z" fill="none" stroke="#55a352" stroke-width="1.0"/>
<path d="M254.7 277.60l2.6 2.6l-2.6 2.6l-2.6 -2.6z" fill="none" stroke="#55a352" stroke-width="1.0"/>
<path d="M260 271.50l2.6 2.6l-2.6 2.6l-2.6 -2.6z" fill="none" stroke="#55a352" stroke-width="1.0"/>
<path d="M267.8 275.40l2.6 2.6l-2.6 2.6l-2.6 -2.6z" fill="none" stroke="#55a352" stroke-width="1.0"/>
<path d="M275.7 273.70l2.6 2.6l-2.6 2.6l-2.6 -2.6z" fill="none" stroke="#55a352" stroke-width="1.0"/>
<path d="M322.5 265.90l2.6 2.6l-2.6 2.6l-2.6 -2.6z" fill="none" stroke="#55a352" stroke-width="1.0"/>
<path d="M359.5 258.70l2.6 2.6l-2.6 2.6l-2.6 -2.6z" fill="none" stroke="#55a352" stroke-width="1.0"/>
<path d="M370.8 256.20l2.6 2.6l-2.6 2.6l-2.6 -2.6z" fill="none" stroke="#55a352" stroke-width="1.0"/>
<rect x="465.90" y="234.80" width="4.2" height="4.2" fill="#43a043"/>
<rect x="489.30" y="226.50" width="4.2" height="4.2" fill="#43a043"/>
<rect x="502.90" y="226.50" width="4.2" height="4.2" fill="#43a043"/>
<rect x="503.30" y="231.80" width="4.2" height="4.2" fill="#43a043"/>
<rect x="505.00" y="236.60" width="4.2" height="4.2" fill="#43a043"/>
<rect x="508.10" y="227.40" width="4.2" height="4.2" fill="#43a043"/>
<rect x="508.50" y="230.90" width="4.2" height="4.2" fill="#43a043"/>
<rect x="513.80" y="229.20" width="4.2" height="4.2" fill="#43a043"/>
<rect x="516.90" y="225.70" width="4.2" height="4.2" fill="#43a043"/>
<rect x="519.90" y="214.30" width="4.2" height="4.2" fill="#43a043"/>
<rect x="519.90" y="218.70" width="4.2" height="4.2" fill="#43a043"/>
<rect x="519.10" y="227.40" width="4.2" height="4.2" fill="#43a043"/>
<rect x="523.40" y="220.40" width="4.2" height="4.2" fill="#43a043"/>
<rect x="523.40" y="233.50" width="4.2" height="4.2" fill="#43a043"/>
<rect x="525.20" y="229.20" width="4.2" height="4.2" fill="#43a043"/>
<rect x="526.90" y="224.80" width="4.2" height="4.2" fill="#43a043"/>
<rect x="530.40" y="216.90" width="4.2" height="4.2" fill="#43a043"/>
<rect x="530.40" y="223.00" width="4.2" height="4.2" fill="#43a043"/>
<rect x="529.60" y="233.50" width="4.2" height="4.2" fill="#43a043"/>
<rect x="532.20" y="228.30" width="4.2" height="4.2" fill="#43a043"/>
<rect x="534.80" y="220.40" width="4.2" height="4.2" fill="#43a043"/>
<rect x="536.60" y="216.00" width="4.2" height="4.2" fill="#43a043"/>
<rect x="536.60" y="225.70" width="4.2" height="4.2" fill="#43a043"/>
<rect x="539.30" y="216.00" width="4.2" height="4.2" fill="#43a043"/>
<rect x="537.50" y="219.50" width="4.2" height="4.2" fill="#43a043"/>
<rect x="529.70" y="231.80" width="4.2" height="4.2" fill="#43a043"/>
<rect x="536.70" y="228.30" width="4.2" height="4.2" fill="#43a043"/>
<rect x="539.30" y="232.70" width="4.2" height="4.2" fill="#43a043"/>
<rect x="544.50" y="230.00" width="4.2" height="4.2" fill="#43a043"/>
<rect x="548.00" y="230.00" width="4.2" height="4.2" fill="#43a043"/>
<rect x="547.20" y="219.50" width="4.2" height="4.2" fill="#43a043"/>
<rect x="556.80" y="219.50" width="4.2" height="4.2" fill="#43a043"/>
<rect x="557.70" y="224.80" width="4.2" height="4.2" fill="#43a043"/>
<rect x="560.30" y="220.40" width="4.2" height="4.2" fill="#43a043"/>
<rect x="564.70" y="216.90" width="4.2" height="4.2" fill="#43a043"/>
<rect x="568.20" y="216.90" width="4.2" height="4.2" fill="#43a043"/>
<rect x="567.30" y="220.40" width="4.2" height="4.2" fill="#43a043"/>
<rect x="520.90" y="223.90" width="4.2" height="4.2" fill="#43a043"/>
<rect x="524.90" y="225.90" width="4.2" height="4.2" fill="#43a043"/>
<rect x="527.90" y="227.90" width="4.2" height="4.2" fill="#43a043"/>
<rect x="521.90" y="229.90" width="4.2" height="4.2" fill="#43a043"/>
<path d="M138.4 434.60l2.6 2.6l-2.6 2.6l-2.6 -2.6z" fill="none" stroke="#4d4a88" stroke-width="1.0"/>
<path d="M145.3 433.00l2.6 2.6l-2.6 2.6l-2.6 -2.6z" fill="none" stroke="#4d4a88" stroke-width="1.0"/>
<path d="M161.7 430.40l2.6 2.6l-2.6 2.6l-2.6 -2.6z" fill="none" stroke="#4d4a88" stroke-width="1.0"/>
<path d="M228.2 425.90l2.6 2.6l-2.6 2.6l-2.6 -2.6z" fill="none" stroke="#4d4a88" stroke-width="1.0"/>
<path d="M241.3 417.80l2.6 2.6l-2.6 2.6l-2.6 -2.6z" fill="none" stroke="#4d4a88" stroke-width="1.0"/>
<path d="M246.4 416.40l2.6 2.6l-2.6 2.6l-2.6 -2.6z" fill="none" stroke="#4d4a88" stroke-width="1.0"/>
<path d="M248.6 416.40l2.6 2.6l-2.6 2.6l-2.6 -2.6z" fill="none" stroke="#4d4a88" stroke-width="1.0"/>
<path d="M250.1 417.80l2.6 2.6l-2.6 2.6l-2.6 -2.6z" fill="none" stroke="#4d4a88" stroke-width="1.0"/>
<path d="M260.3 412.70l2.6 2.6l-2.6 2.6l-2.6 -2.6z" fill="none" stroke="#4d4a88" stroke-width="1.0"/>
<path d="M260.3 426.60l2.6 2.6l-2.6 2.6l-2.6 -2.6z" fill="none" stroke="#4d4a88" stroke-width="1.0"/>
<path d="M272 411.30l2.6 2.6l-2.6 2.6l-2.6 -2.6z" fill="none" stroke="#4d4a88" stroke-width="1.0"/>
<path d="M277.8 414.20l2.6 2.6l-2.6 2.6l-2.6 -2.6z" fill="none" stroke="#4d4a88" stroke-width="1.0"/>
<path d="M298.1 407.90l2.6 2.6l-2.6 2.6l-2.6 -2.6z" fill="none" stroke="#4d4a88" stroke-width="1.0"/>
<path d="M302.1 409.50l2.6 2.6l-2.6 2.6l-2.6 -2.6z" fill="none" stroke="#4d4a88" stroke-width="1.0"/>
<path d="M306.1 406.00l2.6 2.6l-2.6 2.6l-2.6 -2.6z" fill="none" stroke="#4d4a88" stroke-width="1.0"/>
<path d="M319.8 400.20l2.6 2.6l-2.6 2.6l-2.6 -2.6z" fill="none" stroke="#4d4a88" stroke-width="1.0"/>
<path d="M332.3 397.50l2.6 2.6l-2.6 2.6l-2.6 -2.6z" fill="none" stroke="#4d4a88" stroke-width="1.0"/>
<path d="M344.2 395.90l2.6 2.6l-2.6 2.6l-2.6 -2.6z" fill="none" stroke="#4d4a88" stroke-width="1.0"/>
<path d="M351.6 394.60l2.6 2.6l-2.6 2.6l-2.6 -2.6z" fill="none" stroke="#4d4a88" stroke-width="1.0"/>
<path d="M349.5 401.50l2.6 2.6l-2.6 2.6l-2.6 -2.6z" fill="none" stroke="#4d4a88" stroke-width="1.0"/>
<path d="M360.7 397.00l2.6 2.6l-2.6 2.6l-2.6 -2.6z" fill="none" stroke="#4d4a88" stroke-width="1.0"/>
<path d="M365.6 397.50l2.6 2.6l-2.6 2.6l-2.6 -2.6z" fill="none" stroke="#4d4a88" stroke-width="1.0"/>
<path d="M368.8 396.30l2.6 2.6l-2.6 2.6l-2.6 -2.6z" fill="none" stroke="#4d4a88" stroke-width="1.0"/>
<path d="M371.2 397.50l2.6 2.6l-2.6 2.6l-2.6 -2.6z" fill="none" stroke="#4d4a88" stroke-width="1.0"/>
<path d="M396.5 389.50l2.6 2.6l-2.6 2.6l-2.6 -2.6z" fill="none" stroke="#4d4a88" stroke-width="1.0"/>
<path d="M401.3 391.90l2.6 2.6l-2.6 2.6l-2.6 -2.6z" fill="none" stroke="#4d4a88" stroke-width="1.0"/>
<path d="M402.9 394.00l2.6 2.6l-2.6 2.6l-2.6 -2.6z" fill="none" stroke="#4d4a88" stroke-width="1.0"/>
<path d="M409.3 387.10l2.6 2.6l-2.6 2.6l-2.6 -2.6z" fill="none" stroke="#4d4a88" stroke-width="1.0"/>
<path d="M411 396.70l2.6 2.6l-2.6 2.6l-2.6 -2.6z" fill="none" stroke="#4d4a88" stroke-width="1.0"/>
<path d="M416.6 387.60l2.6 2.6l-2.6 2.6l-2.6 -2.6z" fill="none" stroke="#4d4a88" stroke-width="1.0"/>
<path d="M416.6 396.70l2.6 2.6l-2.6 2.6l-2.6 -2.6z" fill="none" stroke="#4d4a88" stroke-width="1.0"/>
<path d="M419.8 398.40l2.6 2.6l-2.6 2.6l-2.6 -2.6z" fill="none" stroke="#4d4a88" stroke-width="1.0"/>
<path d="M420.6 390.30l2.6 2.6l-2.6 2.6l-2.6 -2.6z" fill="none" stroke="#4d4a88" stroke-width="1.0"/>
<path d="M424.6 387.10l2.6 2.6l-2.6 2.6l-2.6 -2.6z" fill="none" stroke="#4d4a88" stroke-width="1.0"/>
<path d="M429.4 397.20l2.6 2.6l-2.6 2.6l-2.6 -2.6z" fill="none" stroke="#4d4a88" stroke-width="1.0"/>
<path d="M435.8 391.90l2.6 2.6l-2.6 2.6l-2.6 -2.6z" fill="none" stroke="#4d4a88" stroke-width="1.0"/>
<path d="M436.6 383.40l2.6 2.6l-2.6 2.6l-2.6 -2.6z" fill="none" stroke="#4d4a88" stroke-width="1.0"/>
<path d="M441.5 390.30l2.6 2.6l-2.6 2.6l-2.6 -2.6z" fill="none" stroke="#4d4a88" stroke-width="1.0"/>
<path d="M445.5 390.30l2.6 2.6l-2.6 2.6l-2.6 -2.6z" fill="none" stroke="#4d4a88" stroke-width="1.0"/>
<path d="M449.5 384.70l2.6 2.6l-2.6 2.6l-2.6 -2.6z" fill="none" stroke="#4d4a88" stroke-width="1.0"/>
<path d="M451.1 391.10l2.6 2.6l-2.6 2.6l-2.6 -2.6z" fill="none" stroke="#4d4a88" stroke-width="1.0"/>
<path d="M453.5 378.30l2.6 2.6l-2.6 2.6l-2.6 -2.6z" fill="none" stroke="#4d4a88" stroke-width="1.0"/>
<path d="M453.5 385.50l2.6 2.6l-2.6 2.6l-2.6 -2.6z" fill="none" stroke="#4d4a88" stroke-width="1.0"/>
<path d="M464.7 379.90l2.6 2.6l-2.6 2.6l-2.6 -2.6z" fill="none" stroke="#4d4a88" stroke-width="1.0"/>
<path d="M383.6 403.60l2.6 2.6l-2.6 2.6l-2.6 -2.6z" fill="none" stroke="#4d4a88" stroke-width="1.0"/>
<circle cx="109.6" cy="443.7" r="2.2" fill="#2e2a72"/>
<circle cx="112.6" cy="443.1" r="2.2" fill="#2e2a72"/>
<circle cx="113.4" cy="448.4" r="2.2" fill="#2e2a72"/>
<circle cx="116.4" cy="451" r="2.2" fill="#2e2a72"/>
<circle cx="121.9" cy="446" r="2.2" fill="#2e2a72"/>
<circle cx="124.2" cy="445.1" r="2.2" fill="#2e2a72"/>
<circle cx="126.6" cy="439" r="2.2" fill="#2e2a72"/>
<circle cx="152.9" cy="442" r="2.2" fill="#2e2a72"/>
<circle cx="154.8" cy="440.7" r="2.2" fill="#2e2a72"/>
<circle cx="171.4" cy="435.6" r="2.2" fill="#2e2a72"/>
<circle cx="173.3" cy="438.3" r="2.2" fill="#2e2a72"/>
<circle cx="173.3" cy="433.5" r="2.2" fill="#2e2a72"/>
<circle cx="179.4" cy="436.2" r="2.2" fill="#2e2a72"/>
<circle cx="184.2" cy="431.9" r="2.2" fill="#2e2a72"/>
<circle cx="187.3" cy="431.4" r="2.2" fill="#2e2a72"/>
<rect x="472.30" y="381.40" width="4.2" height="4.2" fill="#2e2a72"/>
<rect x="479.60" y="381.40" width="4.2" height="4.2" fill="#2e2a72"/>
<rect x="481.00" y="379.90" width="4.2" height="4.2" fill="#2e2a72"/>
<rect x="484.70" y="379.90" width="4.2" height="4.2" fill="#2e2a72"/>
<rect x="489.80" y="379.20" width="4.2" height="4.2" fill="#2e2a72"/>
<rect x="496.40" y="378.00" width="4.2" height="4.2" fill="#2e2a72"/>
<rect x="512.40" y="362.80" width="4.2" height="4.2" fill="#2e2a72"/>
<rect x="517.50" y="364.30" width="4.2" height="4.2" fill="#2e2a72"/>
<rect x="518.30" y="368.20" width="4.2" height="4.2" fill="#2e2a72"/>
<rect x="530.70" y="360.90" width="4.2" height="4.2" fill="#2e2a72"/>
<rect x="538.00" y="365.30" width="4.2" height="4.2" fill="#2e2a72"/>
<circle cx="94.4" cy="578.8" r="2.2" fill="#8a8a8a"/>
<circle cx="94" cy="581" r="2.2" fill="#8a8a8a"/>
<circle cx="94.9" cy="588" r="2.2" fill="#8a8a8a"/>
<circle cx="95.8" cy="589.8" r="2.2" fill="#8a8a8a"/>
<circle cx="99.3" cy="576.6" r="2.2" fill="#8a8a8a"/>
<circle cx="102.3" cy="576.2" r="2.2" fill="#8a8a8a"/>
<circle cx="99.7" cy="581" r="2.2" fill="#8a8a8a"/>
<circle cx="101.9" cy="581.9" r="2.2" fill="#8a8a8a"/>
<circle cx="103.6" cy="582.3" r="2.2" fill="#8a8a8a"/>
<circle cx="109.3" cy="583.6" r="2.2" fill="#8a8a8a"/>
<circle cx="110.6" cy="578.4" r="2.2" fill="#8a8a8a"/>
<circle cx="111.1" cy="581" r="2.2" fill="#8a8a8a"/>
<circle cx="109.8" cy="586.3" r="2.2" fill="#8a8a8a"/>
<circle cx="120.3" cy="577.5" r="2.2" fill="#8a8a8a"/>
<circle cx="123.8" cy="575.3" r="2.2" fill="#8a8a8a"/>
<circle cx="124.2" cy="569.2" r="2.2" fill="#8a8a8a"/>
<circle cx="127.7" cy="568.3" r="2.2" fill="#8a8a8a"/>
<circle cx="129.5" cy="574" r="2.2" fill="#8a8a8a"/>
<circle cx="125.5" cy="581" r="2.2" fill="#8a8a8a"/>
<circle cx="130.8" cy="578.8" r="2.2" fill="#8a8a8a"/>
<circle cx="133.4" cy="581.5" r="2.2" fill="#8a8a8a"/>
<circle cx="134.3" cy="575.8" r="2.2" fill="#8a8a8a"/>
<circle cx="129" cy="586.3" r="2.2" fill="#8a8a8a"/>
<circle cx="126.8" cy="588" r="2.2" fill="#8a8a8a"/>
<circle cx="123.3" cy="590.6" r="2.2" fill="#8a8a8a"/>
<circle cx="126.8" cy="593.3" r="2.2" fill="#8a8a8a"/>
<circle cx="117.2" cy="590.2" r="2.2" fill="#8a8a8a"/>
<circle cx="117.2" cy="593.7" r="2.2" fill="#8a8a8a"/>
<circle cx="148.4" cy="571.3" r="2.2" fill="#8a8a8a"/>
<circle cx="148" cy="573" r="2.2" fill="#8a8a8a"/>
<circle cx="170.3" cy="563.8" r="2.2" fill="#8a8a8a"/>
<circle cx="172" cy="562.5" r="2.2" fill="#8a8a8a"/>
<circle cx="174.7" cy="566" r="2.2" fill="#8a8a8a"/>
<circle cx="189.5" cy="559" r="2.2" fill="#8a8a8a"/>
<circle cx="132.6" cy="576.5" r="2.2" fill="#8a8a8a"/>
<circle cx="200.8" cy="555.8" r="2.2" fill="#8a8a8a"/>
<circle cx="202.1" cy="560.6" r="2.2" fill="#8a8a8a"/>
<circle cx="236.7" cy="554.4" r="2.2" fill="#8a8a8a"/>
<circle cx="265.4" cy="551.5" r="2.2" fill="#8a8a8a"/>
<circle cx="278.5" cy="548.4" r="2.2" fill="#8a8a8a"/>
<circle cx="347.4" cy="532.2" r="2.2" fill="#8a8a8a"/>
<circle cx="349.4" cy="532.2" r="2.2" fill="#8a8a8a"/>
<path d="M126 573.20l2.6 2.6l-2.6 2.6l-2.6 -2.6z" fill="none" stroke="#111111" stroke-width="1.0"/>
<path d="M139.5 574.00l2.6 2.6l-2.6 2.6l-2.6 -2.6z" fill="none" stroke="#111111" stroke-width="1.0"/>
<path d="M140.1 575.70l2.6 2.6l-2.6 2.6l-2.6 -2.6z" fill="none" stroke="#111111" stroke-width="1.0"/>
<path d="M143.6 577.40l2.6 2.6l-2.6 2.6l-2.6 -2.6z" fill="none" stroke="#111111" stroke-width="1.0"/>
<path d="M151.5 573.90l2.6 2.6l-2.6 2.6l-2.6 -2.6z" fill="none" stroke="#111111" stroke-width="1.0"/>
<path d="M155.8 558.60l2.6 2.6l-2.6 2.6l-2.6 -2.6z" fill="none" stroke="#111111" stroke-width="1.0"/>
<path d="M175.5 567.80l2.6 2.6l-2.6 2.6l-2.6 -2.6z" fill="none" stroke="#111111" stroke-width="1.0"/>
<path d="M177.3 565.60l2.6 2.6l-2.6 2.6l-2.6 -2.6z" fill="none" stroke="#111111" stroke-width="1.0"/>
<path d="M175.5 564.70l2.6 2.6l-2.6 2.6l-2.6 -2.6z" fill="none" stroke="#111111" stroke-width="1.0"/>
<path d="M194.2 561.90l2.6 2.6l-2.6 2.6l-2.6 -2.6z" fill="none" stroke="#111111" stroke-width="1.0"/>
<path d="M202.1 557.50l2.6 2.6l-2.6 2.6l-2.6 -2.6z" fill="none" stroke="#111111" stroke-width="1.0"/>
<path d="M203.4 560.60l2.6 2.6l-2.6 2.6l-2.6 -2.6z" fill="none" stroke="#111111" stroke-width="1.0"/>
<path d="M215.6 556.20l2.6 2.6l-2.6 2.6l-2.6 -2.6z" fill="none" stroke="#111111" stroke-width="1.0"/>
<path d="M218.3 557.10l2.6 2.6l-2.6 2.6l-2.6 -2.6z" fill="none" stroke="#111111" stroke-width="1.0"/>
<path d="M221.3 561.50l2.6 2.6l-2.6 2.6l-2.6 -2.6z" fill="none" stroke="#111111" stroke-width="1.0"/>
<path d="M225.3 554.90l2.6 2.6l-2.6 2.6l-2.6 -2.6z" fill="none" stroke="#111111" stroke-width="1.0"/>
<path d="M229.2 554.90l2.6 2.6l-2.6 2.6l-2.6 -2.6z" fill="none" stroke="#111111" stroke-width="1.0"/>
<path d="M236.7 553.60l2.6 2.6l-2.6 2.6l-2.6 -2.6z" fill="none" stroke="#111111" stroke-width="1.0"/>
<path d="M238.4 555.40l2.6 2.6l-2.6 2.6l-2.6 -2.6z" fill="none" stroke="#111111" stroke-width="1.0"/>
<path d="M239.3 564.10l2.6 2.6l-2.6 2.6l-2.6 -2.6z" fill="none" stroke="#111111" stroke-width="1.0"/>
<path d="M244.1 553.20l2.6 2.6l-2.6 2.6l-2.6 -2.6z" fill="none" stroke="#111111" stroke-width="1.0"/>
<path d="M250.1 553.20l2.6 2.6l-2.6 2.6l-2.6 -2.6z" fill="none" stroke="#111111" stroke-width="1.0"/>
<path d="M253.1 557.20l2.6 2.6l-2.6 2.6l-2.6 -2.6z" fill="none" stroke="#111111" stroke-width="1.0"/>
<path d="M254 555.40l2.6 2.6l-2.6 2.6l-2.6 -2.6z" fill="none" stroke="#111111" stroke-width="1.0"/>
<path d="M260.6 559.80l2.6 2.6l-2.6 2.6l-2.6 -2.6z" fill="none" stroke="#111111" stroke-width="1.0"/>
<path d="M265 554.50l2.6 2.6l-2.6 2.6l-2.6 -2.6z" fill="none" stroke="#111111" stroke-width="1.0"/>
<path d="M265.8 555.90l2.6 2.6l-2.6 2.6l-2.6 -2.6z" fill="none" stroke="#111111" stroke-width="1.0"/>
<path d="M268.5 548.00l2.6 2.6l-2.6 2.6l-2.6 -2.6z" fill="none" stroke="#111111" stroke-width="1.0"/>
<path d="M276.3 546.20l2.6 2.6l-2.6 2.6l-2.6 -2.6z" fill="none" stroke="#111111" stroke-width="1.0"/>
<path d="M275.9 551.90l2.6 2.6l-2.6 2.6l-2.6 -2.6z" fill="none" stroke="#111111" stroke-width="1.0"/>
<path d="M288.2 543.60l2.6 2.6l-2.6 2.6l-2.6 -2.6z" fill="none" stroke="#111111" stroke-width="1.0"/>
<path d="M286.8 557.20l2.6 2.6l-2.6 2.6l-2.6 -2.6z" fill="none" stroke="#111111" stroke-width="1.0"/>
<path d="M296.9 555.90l2.6 2.6l-2.6 2.6l-2.6 -2.6z" fill="none" stroke="#111111" stroke-width="1.0"/>
<path d="M299.5 542.70l2.6 2.6l-2.6 2.6l-2.6 -2.6z" fill="none" stroke="#111111" stroke-width="1.0"/>
<path d="M301.1 542.80l2.6 2.6l-2.6 2.6l-2.6 -2.6z" fill="none" stroke="#111111" stroke-width="1.0"/>
<path d="M302.4 547.20l2.6 2.6l-2.6 2.6l-2.6 -2.6z" fill="none" stroke="#111111" stroke-width="1.0"/>
<path d="M324.3 537.10l2.6 2.6l-2.6 2.6l-2.6 -2.6z" fill="none" stroke="#111111" stroke-width="1.0"/>
<path d="M351 539.30l2.6 2.6l-2.6 2.6l-2.6 -2.6z" fill="none" stroke="#111111" stroke-width="1.0"/>
<path d="M353.7 535.80l2.6 2.6l-2.6 2.6l-2.6 -2.6z" fill="none" stroke="#111111" stroke-width="1.0"/>
<path d="M340.5 558.70l2.6 2.6l-2.6 2.6l-2.6 -2.6z" fill="none" stroke="#111111" stroke-width="1.0"/>
<path d="M352 536.70l2.6 2.6l-2.6 2.6l-2.6 -2.6z" fill="none" stroke="#111111" stroke-width="1.0"/>
<path d="M357.1 537.20l2.6 2.6l-2.6 2.6l-2.6 -2.6z" fill="none" stroke="#111111" stroke-width="1.0"/>
<path d="M365.3 543.40l2.6 2.6l-2.6 2.6l-2.6 -2.6z" fill="none" stroke="#111111" stroke-width="1.0"/>
<path d="M366.8 546.90l2.6 2.6l-2.6 2.6l-2.6 -2.6z" fill="none" stroke="#111111" stroke-width="1.0"/>
<path d="M369.9 554.60l2.6 2.6l-2.6 2.6l-2.6 -2.6z" fill="none" stroke="#111111" stroke-width="1.0"/>
<path d="M379.6 547.90l2.6 2.6l-2.6 2.6l-2.6 -2.6z" fill="none" stroke="#111111" stroke-width="1.0"/>
<path d="M389.3 536.70l2.6 2.6l-2.6 2.6l-2.6 -2.6z" fill="none" stroke="#111111" stroke-width="1.0"/>
<path d="M396.9 529.00l2.6 2.6l-2.6 2.6l-2.6 -2.6z" fill="none" stroke="#111111" stroke-width="1.0"/>
<path d="M422.6 521.70l2.6 2.6l-2.6 2.6l-2.6 -2.6z" fill="none" stroke="#111111" stroke-width="1.0"/>
<path d="M410.3 534.00l2.6 2.6l-2.6 2.6l-2.6 -2.6z" fill="none" stroke="#111111" stroke-width="1.0"/>
<path d="M414.9 538.10l2.6 2.6l-2.6 2.6l-2.6 -2.6z" fill="none" stroke="#111111" stroke-width="1.0"/>
<path d="M419 537.00l2.6 2.6l-2.6 2.6l-2.6 -2.6z" fill="none" stroke="#111111" stroke-width="1.0"/>
<path d="M421.6 531.40l2.6 2.6l-2.6 2.6l-2.6 -2.6z" fill="none" stroke="#111111" stroke-width="1.0"/>
<path d="M429.7 531.40l2.6 2.6l-2.6 2.6l-2.6 -2.6z" fill="none" stroke="#111111" stroke-width="1.0"/>
<path d="M430.8 526.30l2.6 2.6l-2.6 2.6l-2.6 -2.6z" fill="none" stroke="#111111" stroke-width="1.0"/>
<path d="M433.8 532.90l2.6 2.6l-2.6 2.6l-2.6 -2.6z" fill="none" stroke="#111111" stroke-width="1.0"/>
<path d="M437.9 531.40l2.6 2.6l-2.6 2.6l-2.6 -2.6z" fill="none" stroke="#111111" stroke-width="1.0"/>
<path d="M436.4 523.20l2.6 2.6l-2.6 2.6l-2.6 -2.6z" fill="none" stroke="#111111" stroke-width="1.0"/>
<path d="M447.1 525.30l2.6 2.6l-2.6 2.6l-2.6 -2.6z" fill="none" stroke="#111111" stroke-width="1.0"/>
<path d="M451.2 525.30l2.6 2.6l-2.6 2.6l-2.6 -2.6z" fill="none" stroke="#111111" stroke-width="1.0"/>
<path d="M454.8 522.70l2.6 2.6l-2.6 2.6l-2.6 -2.6z" fill="none" stroke="#111111" stroke-width="1.0"/>
<path d="M458.9 524.30l2.6 2.6l-2.6 2.6l-2.6 -2.6z" fill="none" stroke="#111111" stroke-width="1.0"/>
<path d="M460.4 521.70l2.6 2.6l-2.6 2.6l-2.6 -2.6z" fill="none" stroke="#111111" stroke-width="1.0"/>
<path d="M462.4 520.70l2.6 2.6l-2.6 2.6l-2.6 -2.6z" fill="none" stroke="#111111" stroke-width="1.0"/>
<path d="M457.3 510.00l2.6 2.6l-2.6 2.6l-2.6 -2.6z" fill="none" stroke="#111111" stroke-width="1.0"/>
<path d="M467.3 521.90l2.6 2.6l-2.6 2.6l-2.6 -2.6z" fill="none" stroke="#111111" stroke-width="1.0"/>
<path d="M468.6 523.70l2.6 2.6l-2.6 2.6l-2.6 -2.6z" fill="none" stroke="#111111" stroke-width="1.0"/>
<path d="M471.2 525.40l2.6 2.6l-2.6 2.6l-2.6 -2.6z" fill="none" stroke="#111111" stroke-width="1.0"/>
<path d="M472.1 513.60l2.6 2.6l-2.6 2.6l-2.6 -2.6z" fill="none" stroke="#111111" stroke-width="1.0"/>
<path d="M473.4 518.90l2.6 2.6l-2.6 2.6l-2.6 -2.6z" fill="none" stroke="#111111" stroke-width="1.0"/>
<path d="M479.1 511.00l2.6 2.6l-2.6 2.6l-2.6 -2.6z" fill="none" stroke="#111111" stroke-width="1.0"/>
<path d="M481.3 509.70l2.6 2.6l-2.6 2.6l-2.6 -2.6z" fill="none" stroke="#111111" stroke-width="1.0"/>
<path d="M483.9 515.40l2.6 2.6l-2.6 2.6l-2.6 -2.6z" fill="none" stroke="#111111" stroke-width="1.0"/>
<path d="M486.1 506.20l2.6 2.6l-2.6 2.6l-2.6 -2.6z" fill="none" stroke="#111111" stroke-width="1.0"/>
<path d="M486.5 510.50l2.6 2.6l-2.6 2.6l-2.6 -2.6z" fill="none" stroke="#111111" stroke-width="1.0"/>
<path d="M487.4 515.80l2.6 2.6l-2.6 2.6l-2.6 -2.6z" fill="none" stroke="#111111" stroke-width="1.0"/>
<path d="M490.9 508.80l2.6 2.6l-2.6 2.6l-2.6 -2.6z" fill="none" stroke="#111111" stroke-width="1.0"/>
<path d="M490 514.90l2.6 2.6l-2.6 2.6l-2.6 -2.6z" fill="none" stroke="#111111" stroke-width="1.0"/>
<path d="M493.5 517.10l2.6 2.6l-2.6 2.6l-2.6 -2.6z" fill="none" stroke="#111111" stroke-width="1.0"/>
<path d="M495.3 513.20l2.6 2.6l-2.6 2.6l-2.6 -2.6z" fill="none" stroke="#111111" stroke-width="1.0"/>
<path d="M497.9 512.30l2.6 2.6l-2.6 2.6l-2.6 -2.6z" fill="none" stroke="#111111" stroke-width="1.0"/>
<path d="M499.7 515.40l2.6 2.6l-2.6 2.6l-2.6 -2.6z" fill="none" stroke="#111111" stroke-width="1.0"/>
<path d="M500.1 505.70l2.6 2.6l-2.6 2.6l-2.6 -2.6z" fill="none" stroke="#111111" stroke-width="1.0"/>
<path d="M500.5 510.50l2.6 2.6l-2.6 2.6l-2.6 -2.6z" fill="none" stroke="#111111" stroke-width="1.0"/>
<path d="M505.8 511.80l2.6 2.6l-2.6 2.6l-2.6 -2.6z" fill="none" stroke="#111111" stroke-width="1.0"/>
<path d="M509.3 513.20l2.6 2.6l-2.6 2.6l-2.6 -2.6z" fill="none" stroke="#111111" stroke-width="1.0"/>
<path d="M541 493.80l2.6 2.6l-2.6 2.6l-2.6 -2.6z" fill="none" stroke="#111111" stroke-width="1.0"/>
<path d="M532 499.50l2.6 2.6l-2.6 2.6l-2.6 -2.6z" fill="none" stroke="#111111" stroke-width="1.0"/>
<path d="M533.5 509.90l2.6 2.6l-2.6 2.6l-2.6 -2.6z" fill="none" stroke="#111111" stroke-width="1.0"/>
<path d="M522.1 505.60l2.6 2.6l-2.6 2.6l-2.6 -2.6z" fill="none" stroke="#111111" stroke-width="1.0"/>
<rect x="505.00" y="505.30" width="4.2" height="4.2" fill="#111111"/>
<rect x="510.70" y="509.70" width="4.2" height="4.2" fill="#111111"/>
<rect x="515.20" y="497.60" width="4.2" height="4.2" fill="#111111"/>
<rect x="524.20" y="492.90" width="4.2" height="4.2" fill="#111111"/>
<rect x="527.60" y="494.80" width="4.2" height="4.2" fill="#111111"/>
<rect x="534.20" y="494.80" width="4.2" height="4.2" fill="#111111"/>
<rect x="521.40" y="500.50" width="4.2" height="4.2" fill="#111111"/>
<rect x="519.50" y="501.90" width="4.2" height="4.2" fill="#111111"/>
<rect x="515.20" y="508.50" width="4.2" height="4.2" fill="#111111"/>
<rect x="517.10" y="510.40" width="4.2" height="4.2" fill="#111111"/>
<rect x="521.90" y="507.60" width="4.2" height="4.2" fill="#111111"/>
<rect x="523.80" y="509.00" width="4.2" height="4.2" fill="#111111"/>
<rect x="526.60" y="504.70" width="4.2" height="4.2" fill="#111111"/>
<rect x="531.40" y="503.30" width="4.2" height="4.2" fill="#111111"/>
<rect x="535.20" y="502.40" width="4.2" height="4.2" fill="#111111"/>
<rect x="538.00" y="502.80" width="4.2" height="4.2" fill="#111111"/>
<rect x="539.90" y="498.10" width="4.2" height="4.2" fill="#111111"/>
<rect x="542.70" y="499.50" width="4.2" height="4.2" fill="#111111"/>
<rect x="544.60" y="496.70" width="4.2" height="4.2" fill="#111111"/>
<rect x="547.50" y="497.10" width="4.2" height="4.2" fill="#111111"/>
<rect x="549.90" y="491.90" width="4.2" height="4.2" fill="#111111"/>
<rect x="552.20" y="495.20" width="4.2" height="4.2" fill="#111111"/>
<rect x="554.60" y="494.80" width="4.2" height="4.2" fill="#111111"/>
<rect x="557.00" y="489.10" width="4.2" height="4.2" fill="#111111"/>
<rect x="559.80" y="496.20" width="4.2" height="4.2" fill="#111111"/>
<rect x="561.70" y="500.50" width="4.2" height="4.2" fill="#111111"/>
<rect x="554.10" y="501.90" width="4.2" height="4.2" fill="#111111"/>
<rect x="556.00" y="505.20" width="4.2" height="4.2" fill="#111111"/>
<rect x="558.40" y="505.20" width="4.2" height="4.2" fill="#111111"/>
<rect x="553.20" y="504.20" width="4.2" height="4.2" fill="#111111"/>
<rect x="527.90" y="506.90" width="4.2" height="4.2" fill="#111111"/>
<rect x="532.90" y="505.90" width="4.2" height="4.2" fill="#111111"/>
<rect x="542.90" y="501.90" width="4.2" height="4.2" fill="#111111"/>
<rect x="547.90" y="499.90" width="4.2" height="4.2" fill="#111111"/>
<g>
<text x="581" y="134.1" style="fill:#cc4f2c;font-size:13px">Castañar</text>
<text x="581" y="281.5" style="fill:#5aa557;font-size:13px">Altamira</text>
<text x="581" y="408.3" style="fill:#3a367a;font-size:13px">Sidron</text>
<text x="581" y="544.3" style="fill:#1a1a1a;font-size:13px">Ojo Guareña</text></g>
<g fill="#808080">
<rect x="629" y="76" width="4.6" height="4.4"/>
<text x="640.4" y="82.1" style="fill:#7a7a7a;font-size:13px">Exterior</text>
<path d="M631.2 90.5 l2.8 2.8 l-2.8 2.8 l-2.8 -2.8 z" fill="none" stroke="#808080" stroke-width="1.1"/>
<text x="640.4" y="96.8" style="fill:#7a7a7a;font-size:13px">Cave</text>
<circle cx="631" cy="108.2" r="2.3"/>
<text x="640.4" y="111.5" style="fill:#7a7a7a;font-size:13px">Soil</text>
</g>
</svg>
</body></html>
